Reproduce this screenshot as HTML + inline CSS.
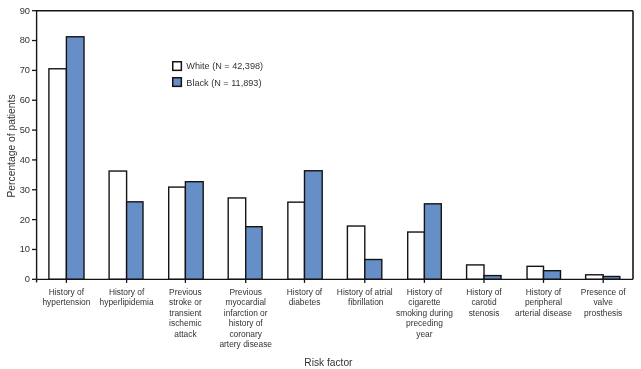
<!DOCTYPE html><html><head><meta charset="utf-8"><style>html,body{margin:0;padding:0;background:#fff;width:641px;height:369px;overflow:hidden}svg{display:block}text{font-family:"Liberation Sans",sans-serif}</style></head><body>
<svg style="will-change:transform" width="641" height="369" viewBox="0 0 641 369">
<rect x="48.90" y="68.78" width="17.50" height="210.52" fill="#fff" stroke="#171314" stroke-width="1.4"/>
<rect x="66.40" y="36.78" width="17.60" height="242.52" fill="#658fc6" stroke="#171314" stroke-width="1.4"/>
<rect x="109.10" y="171.05" width="17.50" height="108.25" fill="#fff" stroke="#171314" stroke-width="1.4"/>
<rect x="126.60" y="201.82" width="16.40" height="77.48" fill="#658fc6" stroke="#171314" stroke-width="1.4"/>
<rect x="168.70" y="187.08" width="16.70" height="92.22" fill="#fff" stroke="#171314" stroke-width="1.4"/>
<rect x="185.40" y="181.71" width="17.80" height="97.59" fill="#658fc6" stroke="#171314" stroke-width="1.4"/>
<rect x="228.20" y="197.94" width="17.50" height="81.36" fill="#fff" stroke="#171314" stroke-width="1.4"/>
<rect x="245.70" y="226.71" width="16.40" height="52.59" fill="#658fc6" stroke="#171314" stroke-width="1.4"/>
<rect x="287.85" y="202.15" width="16.65" height="77.15" fill="#fff" stroke="#171314" stroke-width="1.4"/>
<rect x="304.50" y="170.76" width="17.70" height="108.54" fill="#658fc6" stroke="#171314" stroke-width="1.4"/>
<rect x="347.40" y="226.03" width="17.40" height="53.27" fill="#fff" stroke="#171314" stroke-width="1.4"/>
<rect x="364.80" y="259.51" width="17.00" height="19.79" fill="#658fc6" stroke="#171314" stroke-width="1.4"/>
<rect x="407.70" y="232.03" width="16.70" height="47.27" fill="#fff" stroke="#171314" stroke-width="1.4"/>
<rect x="424.40" y="203.82" width="16.90" height="75.48" fill="#658fc6" stroke="#171314" stroke-width="1.4"/>
<rect x="466.60" y="264.91" width="17.40" height="14.39" fill="#fff" stroke="#171314" stroke-width="1.4"/>
<rect x="484.00" y="275.60" width="17.00" height="3.70" fill="#658fc6" stroke="#171314" stroke-width="1.4"/>
<rect x="527.05" y="266.32" width="16.45" height="12.98" fill="#fff" stroke="#171314" stroke-width="1.4"/>
<rect x="543.50" y="270.70" width="17.00" height="8.60" fill="#658fc6" stroke="#171314" stroke-width="1.4"/>
<rect x="585.65" y="274.79" width="17.55" height="4.51" fill="#fff" stroke="#171314" stroke-width="1.4"/>
<rect x="603.20" y="276.49" width="16.60" height="2.81" fill="#658fc6" stroke="#171314" stroke-width="1.4"/>
<path d="M36.6,279.3 V10.7 H633.0" fill="none" stroke="#171314" stroke-width="1.4"/>
<path d="M633.0,279.3 H36.6" fill="none" stroke="#171314" stroke-width="1.35"/>
<line x1="633.0" y1="10.7" x2="633.0" y2="279.3" stroke="#2a2526" stroke-width="1.7"/>
<line x1="36.6" y1="279.3" x2="36.6" y2="282.4" stroke="#171314" stroke-width="1.4"/>
<line x1="32" y1="279.30" x2="36.6" y2="279.30" stroke="#171314" stroke-width="1.3"/>
<text x="30" y="282.20" font-size="9.3" fill="#333" text-anchor="end">0</text>
<line x1="32" y1="249.46" x2="36.6" y2="249.46" stroke="#171314" stroke-width="1.3"/>
<text x="30" y="252.36" font-size="9.3" fill="#333" text-anchor="end">10</text>
<line x1="32" y1="219.61" x2="36.6" y2="219.61" stroke="#171314" stroke-width="1.3"/>
<text x="30" y="222.51" font-size="9.3" fill="#333" text-anchor="end">20</text>
<line x1="32" y1="189.77" x2="36.6" y2="189.77" stroke="#171314" stroke-width="1.3"/>
<text x="30" y="192.67" font-size="9.3" fill="#333" text-anchor="end">30</text>
<line x1="32" y1="159.92" x2="36.6" y2="159.92" stroke="#171314" stroke-width="1.3"/>
<text x="30" y="162.82" font-size="9.3" fill="#333" text-anchor="end">40</text>
<line x1="32" y1="130.08" x2="36.6" y2="130.08" stroke="#171314" stroke-width="1.3"/>
<text x="30" y="132.98" font-size="9.3" fill="#333" text-anchor="end">50</text>
<line x1="32" y1="100.23" x2="36.6" y2="100.23" stroke="#171314" stroke-width="1.3"/>
<text x="30" y="103.13" font-size="9.3" fill="#333" text-anchor="end">60</text>
<line x1="32" y1="70.39" x2="36.6" y2="70.39" stroke="#171314" stroke-width="1.3"/>
<text x="30" y="73.29" font-size="9.3" fill="#333" text-anchor="end">70</text>
<line x1="32" y1="40.54" x2="36.6" y2="40.54" stroke="#171314" stroke-width="1.3"/>
<text x="30" y="43.44" font-size="9.3" fill="#333" text-anchor="end">80</text>
<line x1="32" y1="10.70" x2="36.6" y2="10.70" stroke="#171314" stroke-width="1.3"/>
<text x="30" y="13.60" font-size="9.3" fill="#333" text-anchor="end">90</text>
<line x1="66.40" y1="279.3" x2="66.40" y2="282.9" stroke="#171314" stroke-width="1.3"/>
<text x="66.40" y="294.70" font-size="8.4" fill="#333" text-anchor="middle">History of</text>
<text x="66.40" y="305.20" font-size="8.4" fill="#333" text-anchor="middle">hypertension</text>
<line x1="126.60" y1="279.3" x2="126.60" y2="282.9" stroke="#171314" stroke-width="1.3"/>
<text x="126.60" y="294.70" font-size="8.4" fill="#333" text-anchor="middle">History of</text>
<text x="126.60" y="305.20" font-size="8.4" fill="#333" text-anchor="middle">hyperlipidemia</text>
<line x1="185.40" y1="279.3" x2="185.40" y2="282.9" stroke="#171314" stroke-width="1.3"/>
<text x="185.40" y="294.70" font-size="8.4" fill="#333" text-anchor="middle">Previous</text>
<text x="185.40" y="305.20" font-size="8.4" fill="#333" text-anchor="middle">stroke or</text>
<text x="185.40" y="315.70" font-size="8.4" fill="#333" text-anchor="middle">transient</text>
<text x="185.40" y="326.20" font-size="8.4" fill="#333" text-anchor="middle">ischemic</text>
<text x="185.40" y="336.70" font-size="8.4" fill="#333" text-anchor="middle">attack</text>
<line x1="245.70" y1="279.3" x2="245.70" y2="282.9" stroke="#171314" stroke-width="1.3"/>
<text x="245.70" y="294.70" font-size="8.4" fill="#333" text-anchor="middle">Previous</text>
<text x="245.70" y="305.20" font-size="8.4" fill="#333" text-anchor="middle">myocardial</text>
<text x="245.70" y="315.70" font-size="8.4" fill="#333" text-anchor="middle">infarction or</text>
<text x="245.70" y="326.20" font-size="8.4" fill="#333" text-anchor="middle">history of</text>
<text x="245.70" y="336.70" font-size="8.4" fill="#333" text-anchor="middle">coronary</text>
<text x="245.70" y="347.20" font-size="8.4" fill="#333" text-anchor="middle">artery disease</text>
<line x1="304.50" y1="279.3" x2="304.50" y2="282.9" stroke="#171314" stroke-width="1.3"/>
<text x="304.50" y="294.70" font-size="8.4" fill="#333" text-anchor="middle">History of</text>
<text x="304.50" y="305.20" font-size="8.4" fill="#333" text-anchor="middle">diabetes</text>
<line x1="364.80" y1="279.3" x2="364.80" y2="282.9" stroke="#171314" stroke-width="1.3"/>
<text x="364.80" y="294.70" font-size="8.4" fill="#333" text-anchor="middle">History of atrial</text>
<text x="365.80" y="305.20" font-size="8.4" fill="#333" text-anchor="middle">fibrillation</text>
<line x1="424.40" y1="279.3" x2="424.40" y2="282.9" stroke="#171314" stroke-width="1.3"/>
<text x="424.40" y="294.70" font-size="8.4" fill="#333" text-anchor="middle">History of</text>
<text x="424.40" y="305.20" font-size="8.4" fill="#333" text-anchor="middle">cigarette</text>
<text x="424.40" y="315.70" font-size="8.4" fill="#333" text-anchor="middle">smoking during</text>
<text x="424.40" y="326.20" font-size="8.4" fill="#333" text-anchor="middle">preceding</text>
<text x="424.40" y="336.70" font-size="8.4" fill="#333" text-anchor="middle">year</text>
<line x1="484.00" y1="279.3" x2="484.00" y2="282.9" stroke="#171314" stroke-width="1.3"/>
<text x="484.00" y="294.70" font-size="8.4" fill="#333" text-anchor="middle">History of</text>
<text x="484.00" y="305.20" font-size="8.4" fill="#333" text-anchor="middle">carotid</text>
<text x="484.00" y="315.70" font-size="8.4" fill="#333" text-anchor="middle">stenosis</text>
<line x1="543.50" y1="279.3" x2="543.50" y2="282.9" stroke="#171314" stroke-width="1.3"/>
<text x="543.50" y="294.70" font-size="8.4" fill="#333" text-anchor="middle">History of</text>
<text x="543.50" y="305.20" font-size="8.4" fill="#333" text-anchor="middle">peripheral</text>
<text x="543.50" y="315.70" font-size="8.4" fill="#333" text-anchor="middle">arterial disease</text>
<line x1="603.20" y1="279.3" x2="603.20" y2="282.9" stroke="#171314" stroke-width="1.3"/>
<text x="603.20" y="294.70" font-size="8.4" fill="#333" text-anchor="middle">Presence of</text>
<text x="603.20" y="305.20" font-size="8.4" fill="#333" text-anchor="middle">valve</text>
<text x="603.20" y="315.70" font-size="8.4" fill="#333" text-anchor="middle">prosthesis</text>
<text x="328.4" y="366.2" font-size="10.2" fill="#333" text-anchor="middle">Risk factor</text>
<text transform="translate(14.5,146.0) rotate(-90)" x="0" y="0" font-size="10.3" fill="#333" text-anchor="middle">Percentage of patients</text>
<rect x="172.75" y="61.75" width="8.6" height="8.6" fill="#fff" stroke="#171314" stroke-width="1.5"/>
<rect x="172.75" y="77.75" width="8.6" height="8.6" fill="#658fc6" stroke="#171314" stroke-width="1.5"/>
<text x="186.3" y="69.2" font-size="9.15" fill="#333">White (N = 42,398)</text>
<text x="186.3" y="85.9" font-size="9.15" fill="#333">Black (N = 11,893)</text>
</svg></body></html>
